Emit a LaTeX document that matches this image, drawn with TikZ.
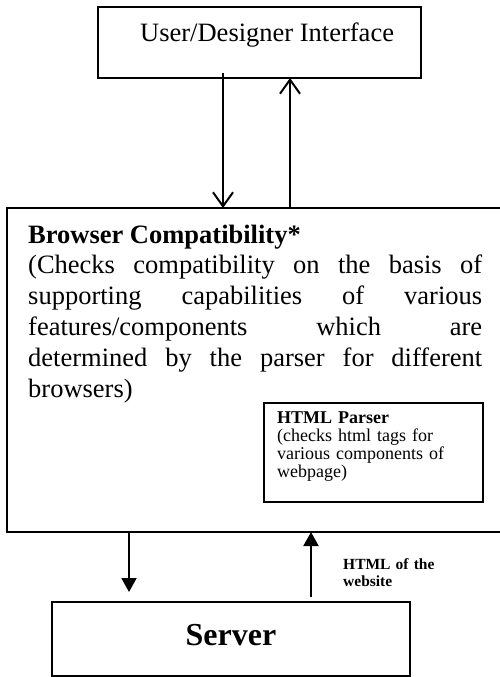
\documentclass[tikz,border=0pt]{standalone}
\usepackage{fontspec}
\setmainfont{Liberation Serif}
\usetikzlibrary{arrows.meta}
\begin{document}
\begin{tikzpicture}[x=1pt,y=-1pt]
	\tikzstyle{block}=[draw, line width=1.2pt, inner sep=0pt, outer sep=0pt]
	\tikzstyle{txt}=[inner sep=0pt, anchor=base west, align=left]
	\tikzstyle{openarrow}=[line width=2pt, -{Straight Barb[length=14pt,width=20pt,line width=2pt]}]
	\tikzstyle{fillarrow}=[line width=2pt, -{Triangle[length=14pt,width=15pt]}]
	\useasboundingbox (0,0) rectangle (499,677);
	\path (259.5,42.5) node[block, minimum width=323pt, minimum height=71pt] (ui) {}
	      (254.5,370) node[block, minimum width=495pt, minimum height=324pt] (compat) {}
	      (373.5,452.5) node[block, minimum width=219pt, minimum height=99pt] (parser) {}
	      (231,639) node[block, minimum width=358pt, minimum height=74pt] (server) {};
	\path (140,42) node[txt, font=\fontsize{26.5}{31}\selectfont] (uitext) {User/Designer Interface}
	      (28,243) node[txt, text width=454pt, align=justify, font=\fontsize{26.5}{30.8}\selectfont] (compattext)
	          {\tolerance=10000 \textbf{Browser Compatibility*}\\
	           (Checks compatibility on the basis of\linebreak
	           supporting capabilities of various\linebreak
	           features/components which are\linebreak
	           determined by the parser for different\linebreak
	           browsers)}
	      (277,423) node[txt, text width=204pt, font=\fontsize{18}{18.2}\selectfont] (parsertext)
	          {\textbf{HTML Parser}\\(checks html tags for\\various components of\\webpage)}
	      (343,569) node[txt, text width=150pt, font=\bfseries\fontsize{15.5}{17}\selectfont] (htmllabel)
	          {HTML of the\\website}
	      (231,645) node[inner sep=0pt, anchor=base, font=\bfseries\fontsize{32}{38}\selectfont] (servertext) {Server};
	\draw[openarrow] ([xshift=-36.5pt,yshift=5pt]ui.south) -- ([xshift=-31.5pt]compat.north);
	\draw[openarrow] ([xshift=35.5pt]compat.north) -- ([xshift=30.5pt]ui.south);
	\draw[fillarrow, shorten >=10pt] ([xshift=-125.5pt]compat.south) -- ([xshift=-102pt]server.north);
	\draw[fillarrow, shorten <=5pt] ([xshift=80pt]server.north) -- ([xshift=56.5pt]compat.south);
\end{tikzpicture}
\end{document}
